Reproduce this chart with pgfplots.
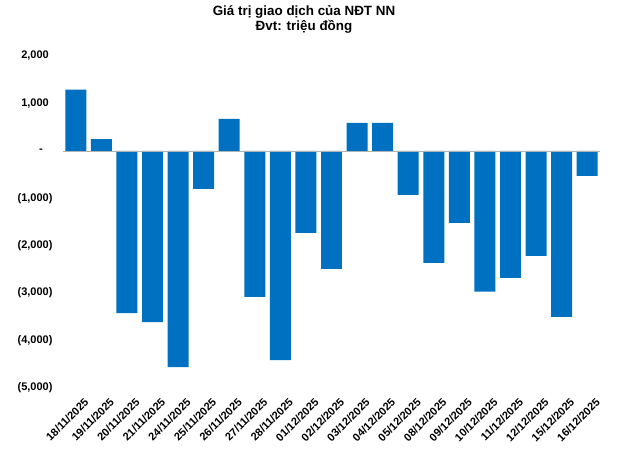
\documentclass[border=0pt]{standalone}
\usepackage{fontspec}
\setmainfont{Liberation Sans}
\usepackage{pgfplots}
\pgfplotsset{compat=1.18}
\definecolor{barblue}{RGB}{0,112,192}
\begin{document}
\begin{tikzpicture}
\useasboundingbox (0,0) rectangle (641pt,450pt);
\node[font=\bfseries\fontsize{13.4}{15}\selectfont] at (304pt,438.5pt) {Giá trị giao dịch của NĐT NN};
\node[font=\bfseries\fontsize{13.4}{15}\selectfont] at (304pt,423.5pt) {Đvt: triệu đồng};
\begin{axis}[
  at={(63pt,62pt)}, anchor=south west,
  scale only axis, width=537pt, height=332pt,
  xmin=-0.5, xmax=20.5, ymin=-5000, ymax=2000,
  axis line style={draw=none},
  major tick length=0pt,
  ytick={-5000,-4000,-3000,-2000,-1000,0,1000,2000},
  yticklabels={{(5,000)},{(4,000)},{(3,000)},{(2,000)},{(1,000)},{-\hphantom{0)}},{1,000\hphantom{)}},{2,000\hphantom{)}}},
  xtick={0,...,20},
  xticklabels={18/11/2025,19/11/2025,20/11/2025,21/11/2025,24/11/2025,25/11/2025,26/11/2025,27/11/2025,28/11/2025,01/12/2025,02/12/2025,03/12/2025,04/12/2025,05/12/2025,08/12/2025,09/12/2025,10/12/2025,11/12/2025,12/12/2025,15/12/2025,16/12/2025},
  ticklabel style={font=\bfseries\fontsize{11}{12}\selectfont},
  yticklabel style={anchor=east, xshift=-7pt},
  xticklabel style={rotate=45, anchor=north east, inner sep=1pt, xshift=0pt, yshift=-11pt},
  ybar, bar width=0.82, bar shift=0pt,
  clip=false,
]
\addplot[fill=barblue, draw=none] coordinates {
(0,1290) (1,250) (2,-3420) (3,-3610) (4,-4560) (5,-800) (6,675) (7,-3080) (8,-4410) (9,-1730) (10,-2490) (11,590) (12,590) (13,-930) (14,-2360) (15,-1520) (16,-2970) (17,-2680) (18,-2215) (19,-3500) (20,-530)
};
\draw[gray!60, line width=0.6pt] (axis cs:-0.5,0) -- (axis cs:20.5,0);
\end{axis}
\end{tikzpicture}
\end{document}
